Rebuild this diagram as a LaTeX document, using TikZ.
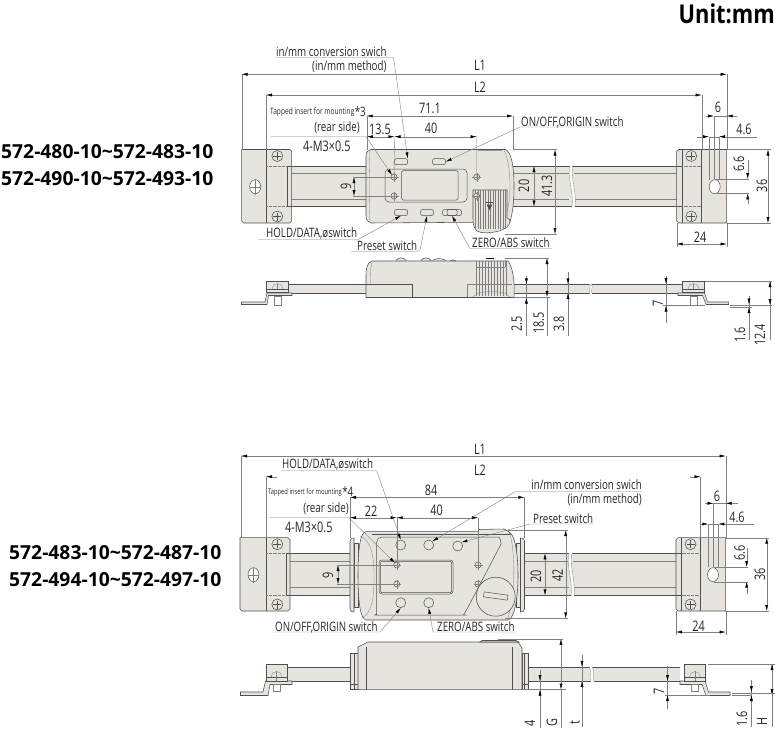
\documentclass[tikz,border=0pt]{standalone}
\usepackage{fontspec}
\setmainfont[FakeStretch=0.75]{Open Sans}
\newfontfamily\modelfont{Open Sans}
\newfontfamily\unitfont[FakeStretch=0.84]{Open Sans}
\usetikzlibrary{arrows.meta}
\definecolor{bodyc}{HTML}{E7E3DF}
\definecolor{linec}{HTML}{505050}
\definecolor{dimc}{HTML}{808080}
\tikzset{
  x=1pt,y=-1pt,
  body/.style={draw=linec,fill=bodyc,line width=.55pt},
  edge/.style={draw=linec,line width=.5pt},
  thin edge/.style={draw=dimc,line width=.3pt},
  ext/.style={draw=dimc,line width=.4pt},
  ddim/.style={draw=dimc,line width=.4pt,{Latex[length=6pt,width=3pt,black]}-{Latex[length=6pt,width=3pt,black]}},
  sdim/.style={draw=dimc,line width=.4pt,-{Latex[length=6pt,width=3pt,black]}},
  lead/.style={draw=dimc,line width=.4pt,-{Latex[length=6pt,width=3pt,black]}},
  lab/.style={inner sep=0pt,font=\fontsize{13pt}{14pt}\selectfont,text=black!85},
  small/.style={inner sep=0pt,font=\fontsize{8.8pt}{9pt}\selectfont,text=black!85},
  num/.style={inner sep=0pt,font=\fontsize{14.5pt}{15pt}\selectfont,text=black!85},
  vnum/.style={num,rotate=90},
  model/.style={inner sep=0pt,font=\modelfont\fontsize{19.3pt}{20pt}\bfseries\selectfont,text=black},
  btn/.style={draw=linec,fill=bodyc,line width=.5pt,rounded corners=2pt,minimum width=13pt,minimum height=6pt,inner sep=0pt},
  hole/.style={draw=linec,fill=bodyc,line width=.5pt,circle,inner sep=0pt,minimum size=10pt},
}
\newcommand{\myscrew}[2]{%
  \draw[body] (#1,#2) circle[radius=5.5pt];
  \draw[edge] (#1-4,#2) -- (#1+4,#2) (#1,#2-4) -- (#1,#2+4);
}
\newcommand{\mytiny}[2]{%
  \draw[edge,fill=bodyc] (#1,#2) circle[radius=3pt];
  \draw[thin edge] (#1-4.5,#2) -- (#1+4.5,#2) (#1,#2-4.5) -- (#1,#2+4.5);
}
\newcommand{\mybrackets}[6]{%
  \draw[body] (#1,\myt) -- (#3-2,\myt) -- (#3,\myt+2) -- (#3,\myb-2) -- (#3-2,\myb) -- (#1+2,\myb) -- (#1,\myb-2) -- cycle;
  \draw[edge] (#2,\myt) -- (#2,\myb);
  \draw[thin edge,densely dotted] (#2,\mysa) -- (#3,\mysa) (#2,\mysb) -- (#3,\mysb);
  \draw[edge] (#3-4,\mysa) -- (#3,\mysa) (#3-4,\mysb) -- (#3,\mysb) (#3-4,\mysa) -- (#3-4,\mysb);
  \draw[edge,fill=white] (#1+13.5,\myh) ellipse[x radius=5.5pt,y radius=7pt];
  \draw[thin edge] (#1+8,\myh) -- (#1+19,\myh) (#1+13.5,\myh-8) -- (#1+13.5,\myh+8);
  \myscrew{#2+11.3}{\myt+6.5}
  \myscrew{#2+11.3}{\myb-6.5}
  \draw[body] (#4,\myt+2) -- (#4+2,\myt) -- (#6,\myt) -- (#6,\myb) -- (#4+2,\myb) -- (#4,\myb-2) -- cycle;
  \draw[edge] (#5,\myt) -- (#5,\myb) (#4+5.5,\mysa) -- (#4+5.5,\mysb);
  \draw[thin edge,densely dotted] (#4+5.5,\mysa) -- (#5,\mysa) (#4+5.5,\mysb) -- (#5,\mysb);
  \draw[edge] (#4,\mysa) -- (#4+5.5,\mysa) (#4,\mysb) -- (#4+5.5,\mysb) (#4+5.5,\myt) -- (#4+5.5,\mysa) (#4+5.5,\mysb) -- (#4+5.5,\myb);
  \draw[edge,fill=white] (#5+13,\myh) ellipse[x radius=5.5pt,y radius=7pt];
  \myscrew{#4+14.5}{\myt+6.5}
  \myscrew{#4+14.5}{\myb-6.5}
}
\begin{document}
\begin{tikzpicture}
\useasboundingbox (0,0) rectangle (775,749);
\node[inner sep=0pt,anchor=east,font=\unitfont\fontsize{26pt}{27pt}\bfseries\selectfont] (unit) at (775,14) {Unit:mm};
\node[model,anchor=west] (m1) at (1,152) {572-480-10\textasciitilde 572-483-10};
\node[model,anchor=west] (m2) at (1,179) {572-490-10\textasciitilde 572-493-10};
\node[model,anchor=west] (m3) at (9,553) {572-483-10\textasciitilde 572-487-10};
\node[model,anchor=west] (m4) at (9,580) {572-494-10\textasciitilde 572-497-10};

%%%%%%%%%%%%%%%% TOP PLAN VIEW
\fill[bodyc] (287,166) rectangle (682,206.5);
\draw[edge] (287,166) -- (682,166);
\draw[edge] (287,206.5) -- (682,206.5);
\draw[thin edge] (287,173.3) -- (569,173.3) (574,173.3) -- (682,173.3);
\draw[thin edge] (287,199.3) -- (569,199.3) (574,199.3) -- (682,199.3);
\fill[white] (570,164) .. controls (567,178) and (574,192) .. (572,208) -- (575,208) .. controls (577,192) and (570,178) .. (573,164) -- cycle;
\draw[thin edge] (570,165) .. controls (567,178) and (574,192) .. (572,207);
\draw[thin edge] (573,165) .. controls (570,178) and (577,192) .. (575,207);
\def\myt{149.5}\def\myb{223}\def\mysa{166}\def\mysb{206.5}\def\myh{186.7}
\mybrackets{241.7}{266}{291.7}{676.7}{701.7}{726.7}
% head
\draw[body] (371,149.5) -- (505,149.5) .. controls (511,151) and (514,165) .. (514,186) .. controls (514,205) and (512,215) .. (510,222) -- (371,223) .. controls (368,222) and (366,220) .. (366,216) -- (366,156) .. controls (366,152) and (368,150) .. (371,149.5) -- cycle;
\draw[thin edge] (504,150) .. controls (509,160) and (510,175) .. (510,186) .. controls (510,200) and (508,210) .. (505,218);
\draw[thin edge] (370,150) .. controls (369,170) and (369,200) .. (370,222);
\fill[black!40] (478,149.5) rectangle (502,151);
% knurl
\draw[body] (473,190) -- (507,190) -- (507,218) .. controls (512,219) and (510,224) .. (507,227) .. controls (500,233) and (480,235) .. (476,230) .. controls (473,226) and (473,222) .. (473,218) -- cycle;
\foreach \kx in {475.5,478,...,505.5} \draw[thin edge] (\kx,190) -- (\kx,229);
\fill[linec] (486.5,204.5) -- (492.5,204.5) -- (489.5,210) -- cycle;
\draw[edge] (486,202.5) -- (493,202.5);
% display
\draw[edge,rounded corners=4pt] (385,169) rectangle (467,202);
\draw[edge,rounded corners=1.5pt] (401.7,170.5) rectangle (458,200);
\mytiny{394}{177}\mytiny{394}{196}\mytiny{476.7}{177}\mytiny{476.7}{196}
\coordinate (t1) at (394,177);\coordinate (t2) at (476.7,177);
\node[btn] (bA) at (401,161.7) {};
\node[btn] (bB) at (439,161.7) {};
\node[btn] (bC) at (401,212.5) {};
\node[btn] (bD) at (427,212.5) {};
\node[btn,minimum width=19pt] (bE) at (452,212.5) {};
\draw[edge,rounded corners=1.5pt] (447,209.5) rectangle (457,215.5);

% dims top
\node[num] (L1a) at (480,65) {L1};
\node[num] (L2a) at (480,87) {L2};
\coordinate (la) at (241.7,74.3);\coordinate (lb) at (726.7,74.3);
\coordinate (lc) at (266,95);\coordinate (ld) at (701.7,95);
\draw[ddim] (la) -- (lb);
\draw[ddim] (lc) -- (ld);
\draw[ext] (la) -- (241.7,149.5) (lb) -- (726.7,149.5) (lc) -- (266,149.5) (ld) -- (701.7,149.5);
\node[num] (d711) at (430,108) {71.1};
\draw[ddim] (366.7,116) -- (513,116);
\draw[ext] (366.7,116) -- (366.7,150) (513,116) -- (513,150);
\node[num] (d135) at (380,129) {13.5};
\node[num] (d40) at (431,128) {40};
\draw[ddim] (367,136.7) -- (394.5,136.7);
\draw[ddim] (394.5,136.7) -- (476.7,136.7);
\draw[ext] (394.5,136.7) -- (t1) (476.7,136.7) -- (t2);
\node[vnum] (d9) at (346,186) {9};
\draw[ddim] (354,177) -- (354,196);
\draw[ext] (353,177) -- (394,177) (353,196) -- (394,196);
\node[vnum] (d20) at (524,186) {20};
\draw[ddim] (534,166) -- (534,206.5);
\node[vnum] (d413) at (547,186) {41.3};
\draw[ddim] (555,149.5) -- (555,234);
\draw[ext] (514,149.5) -- (557,149.5) (505,234) -- (557,234);
\draw[ext] (534,173.3) -- (548,173.3) (534,199.3) -- (548,199.3);
% right side dims
\node[num] (d6) at (718,107) {6};
\draw[sdim] (706,116) -- (714,116);
\draw[sdim] (737,116) -- (726.7,116);
\draw[ext] (714,116) -- (726.7,116);
\node[num] (d46) at (744,129) {4.6};
\draw[ext] (697,136.7) -- (703,136.7);
\draw[sdim] (702,136.7) -- (709,136.7);
\draw[ext] (709,136.7) -- (719,136.7);
\draw[sdim] (757,136.7) -- (719,136.7);
\draw[ext] (714,116) -- (714,179) (709,136.7) -- (709,180) (719,136.7) -- (719,180);
\node[vnum] (d66) at (739,164) {6.6};
\draw[sdim] (747.7,160) -- (747.7,179);
\draw[sdim] (747.7,204) -- (747.7,193.3);
\draw[ext] (715,179) -- (749,179) (715,193.3) -- (749,193.3);
\node[vnum] (d36) at (762,186) {36};
\draw[ddim] (768,149.5) -- (768,223);
\draw[ext] (726.7,149.5) -- (771,149.5) (726.7,223) -- (771,223);
\node[num] (d24) at (700,237) {24};
\draw[ddim] (676.7,244) -- (726.7,244);
\draw[ext] (676.7,223) -- (676.7,247) (726.7,223) -- (726.7,247);

% labels top
\node[lab,anchor=east] (tA) at (386.7,52) {in/mm conversion swich};
\node[lab,anchor=east] (tB) at (386.7,67) {(in/mm method)};
\draw[lead] (275,57.3) -- (393.5,57.3) -- (bA.north east);
\node[small,anchor=west] (tC) at (270,112) {Tapped insert for mounting};
\node[lab,anchor=west] (tCs) at (tC.east) {\raisebox{1pt}{*3}};
\node[lab,anchor=east] (tD) at (360,128) {(rear side)};
\node[num,anchor=west] (tE) at (303,146) {4-M3×0.5};
\draw[lead] (271,136.7) -- (366,136.7) -- (392,175);
\node[lab,anchor=west] (tF) at (521,122) {ON/OFF,ORIGIN switch};
\draw[lead] (624,127) -- (520,127) -- (bB.east);
\node[lab,anchor=west] (tG) at (266,233) {HOLD/DATA,øswitch};
\draw[lead] (258,239.5) -- (358,239.5) -- (bC.south);
\node[lab,anchor=west] (tH) at (357,246) {Preset switch};
\draw[lead] (351,251.5) -- (417,251.5) -- (420,250) -- (bD.south);
\node[lab,anchor=west] (tI) at (472,243) {ZERO/ABS switch};
\draw[lead] (552,248.7) -- (470,248.7) -- (bE.south);

%%%%%%%%%%%%%%%% TOP SIDE VIEW
\fill[bodyc] (287,284.3) rectangle (682,293);
\draw[edge] (287,284.3) -- (682,284.3);
\draw[edge] (287,293) -- (682,293);
\fill[white] (589,283) -- (591,283) .. controls (594,287) and (590,290) .. (592,294) -- (590,294) .. controls (588,290) and (592,287) .. (589,283) -- cycle;
\draw[thin edge] (589,284) .. controls (592,287) and (588,290) .. (590,293);
\draw[thin edge] (591,284) .. controls (594,287) and (590,290) .. (592,293);
% buttons
\draw[body] (396,260.5) .. controls (398,257) and (404,257) .. (406,260.5);
\draw[body] (421,260.5) .. controls (423,257) and (429,257) .. (431,260.5);
\draw[body] (433,260.5) .. controls (434,258) and (443,258) .. (446,260.5);
\draw[body] (450,261) .. controls (451,259.5) and (454,259.5) .. (456,261);
\draw[draw=black,line width=1.2pt] (486,258.5) -- (494,258.5);
\draw[body] (372,261) -- (508,261) .. controls (512,266) and (515,278) .. (514,297.5) -- (366,297.5) -- (366,275) .. controls (366,267) and (368,262) .. (372,261) -- cycle;
\draw[thin edge] (372,262) .. controls (370,270) and (370,278) .. (371,284);
\draw[edge] (366,284) -- (412,284) -- (412,297.5);
\draw[thin edge] (476,261) -- (476,267) (476,267) -- (505,267) (505,261) -- (505,267);
\foreach \kx in {476,479,...,506} \draw[thin edge] (\kx,261) -- (\kx,296);
\draw[thin edge] (467,284) -- (512,284) (467,284) -- (467,297);
\draw[thin edge] (473,297) -- (478,293) -- (492,291) -- (505,293) -- (510,297);
% left bracket
\draw[body] (241.5,304.5) -- (267,304.5) -- (268.5,295.5) -- (292,295.5) -- (292,293) -- (267,293) -- (265,302) -- (241.5,302) -- cycle;
\draw[body] (266.6,281) rectangle (288,292.5);
\draw[edge] (266.6,289) -- (288,289);
\draw[thin edge] (272,289) arc[start angle=180,end angle=0,radius=5.5pt];
\draw[thin edge] (277.5,283.5) -- (277.5,289);
\draw[thin edge] (274,296) rectangle (281,305);
% right bracket
\draw[body] (728.6,304.5) -- (706,304.5) -- (702.5,295.5) -- (678,295.5) -- (678,293) -- (704.5,293) -- (707.5,302) -- (728.6,302) -- cycle;
\draw[body] (682.6,281) rectangle (704,292.5);
\draw[edge] (682.6,289) -- (704,289);
\draw[thin edge] (688,289) arc[start angle=180,end angle=0,radius=5.5pt];
\draw[thin edge] (693.5,283.5) -- (693.5,289);
\draw[thin edge] (690,296) rectangle (697,305);
% dims
\node[vnum] (s25) at (516.6,324) {2.5};
\draw[ext] (526.4,280) -- (526.4,336);
\draw[sdim] (526.4,276) -- (526.4,284.3);
\draw[sdim] (526.4,306) -- (526.4,297.5);
\draw[ext] (514,297.5) -- (550,297.5);
\node[vnum] (s185) at (538.6,323) {18.5};
\draw[ddim] (547,258) -- (547,297);
\draw[ext] (547,297) -- (547,336) (505,258) -- (549,258);
\node[vnum] (s38) at (559,324) {3.8};
\draw[ext] (568,272) -- (568,336);
\draw[sdim] (568,274) -- (568,284.3);
\draw[sdim] (568,302) -- (568,293);
\node[vnum] (s7) at (658,303) {7};
\draw[ext] (666,280) -- (666,323) (663,305.5) -- (705,305.5);
\draw[sdim] (666,276) -- (666,284);
\draw[sdim] (666,315) -- (666,305.5);
\node[vnum] (s16) at (740,335) {1.6};
\draw[ext] (749,299) -- (749,340);
\draw[sdim] (749,296) -- (749,304.5);
\draw[sdim] (749,315) -- (749,307);
\node[vnum] (s124) at (760,335) {12.4};
\draw[ext] (770,281) -- (770,340);
\draw[ddim] (770,281) -- (770,305);
\draw[ext] (705,281) -- (772,281) (730,305) -- (772,305) (730,307) -- (752,307);

%%%%%%%%%%%%%%%% BOTTOM PLAN VIEW
\fill[bodyc] (287,553.3) rectangle (680,595.3);
\draw[edge] (287,553.3) -- (680,553.3);
\draw[edge] (287,595.3) -- (680,595.3);
\draw[thin edge] (287,561.3) -- (568,561.3) (573,561.3) -- (680,561.3);
\draw[thin edge] (287,587.3) -- (569,587.3) (573,587.3) -- (680,587.3);
\fill[white] (569,552) .. controls (566,566) and (573,580) .. (571,597) -- (574,597) .. controls (576,580) and (569,566) .. (572,552) -- cycle;
\draw[thin edge] (569,553) .. controls (566,566) and (573,580) .. (571,596);
\draw[thin edge] (572,553) .. controls (569,566) and (576,580) .. (574,596);
\def\myt{537.7}\def\myb{611}\def\mysa{553.3}\def\mysb{595.3}\def\myh{574.7}
\mybrackets{240}{266}{290}{676}{700}{725.7}
% flanges
\draw[body] (350,541) .. controls (350,538) and (352,538) .. (354,538) -- (354,612) .. controls (352,612) and (350,612) .. (350,609) -- cycle;
\draw[body] (354,543) -- (358,543) -- (358,607) -- (354,607) -- cycle;
\draw[body] (524.5,541) .. controls (524.5,538) and (522,538) .. (520.5,538) -- (520.5,612) .. controls (522,612) and (524.5,612) .. (524.5,609) -- cycle;
\draw[body] (516,543) -- (520.5,543) -- (520.5,607) -- (516,607) -- cycle;
% head
\draw[body] (366,531.7) -- (508,531.7) .. controls (514,532) and (518,550) .. (518,575) .. controls (518,600) and (514,619) .. (508,620) -- (366,620) .. controls (360,619) and (358,600) .. (358,575) .. controls (358,550) and (360,532) .. (366,531.7) -- cycle;
\draw[thin edge] (360,536) .. controls (372,540) and (374,560) .. (374,575) .. controls (374,600) and (372,612) .. (362,618);
\draw[thin edge] (510,533) .. controls (515,555) and (516,590) .. (508,618);
\draw[edge,line width=.8pt] (372,534.5) -- (510,534.5);
\draw[body] (478.5,534.5) -- (478.5,529.5) -- (504,529) .. controls (507,530) and (510,532) .. (510,534.5) -- cycle;
% panel
\draw[edge,rounded corners=5pt] (376.7,537) -- (494,537) .. controls (500,537) and (501,544) .. (499,548) -- (466,611) .. controls (464,614) and (463,615) .. (460,615) -- (380,615) .. controls (377,615) and (376.7,612) .. (376.7,610) -- cycle;
\draw[edge,rounded corners=3pt] (379,560) rectangle (453,594);
\draw[edge,rounded corners=1pt] (380.5,561.5) rectangle (451.5,592.5);
\node[hole] (hA) at (400.7,545) {};
\node[hole] (hB) at (428.7,545) {};
\node[hole] (hC) at (457.7,546) {};
\node[hole] (hD) at (400.7,602.7) {};
\node[hole] (hE) at (428.7,602.7) {};
\mytiny{396.7}{565}\mytiny{396.7}{584}\mytiny{478}{565}\mytiny{478}{584}
\coordinate (b1) at (396.7,565);\coordinate (b2) at (478,565);
% wheel
\draw[body] (495.7,596.7) circle[radius=19.5pt];
\draw[edge,rotate around={-8:(495.7,596)}] (483.7,593.5) rectangle (507.7,598.5);

% dims bottom
\node[num] (L1b) at (480,449) {L1};
\node[num] (L2b) at (480,470) {L2};
\draw[ddim] (241,456) -- (725.7,456);
\draw[ext] (241,456) -- (241,537.7) (725.7,456) -- (725.7,537.7);
\draw[sdim] (277,476.7) -- (266,476.7);
\draw[sdim] (690,476.7) -- (700.5,476.7);
\draw[ext] (266,476.7) -- (266,537.7) (700.5,476.7) -- (700.5,537.7);
\node[num] (e84) at (431,490) {84};
\draw[ddim] (350,497.3) -- (524.3,497.3);
\draw[ext] (350,497.3) -- (350,538) (524.3,497.3) -- (524.3,538);
\node[num] (e22) at (371,511) {22};
\node[num] (e40) at (436.7,510) {40};
\draw[ddim] (350,517.7) -- (396.7,517.7);
\draw[ddim] (396.7,517.7) -- (478,517.7);
\draw[ext] (396.7,517.7) -- (b1) (478,517.7) -- (b2);
\node[vnum] (e9) at (328,575) {9};
\draw[ddim] (338,565) -- (338,584);
\draw[ext] (337,565) -- (396.7,565) (337,584) -- (396.7,584);
\node[vnum] (e20) at (536,576) {20};
\draw[ddim] (545,553.3) -- (545,595.3);
\node[vnum] (e42) at (557.7,575) {42};
\draw[ddim] (565.7,530) -- (565.7,618.3);
\draw[ext] (508,530) -- (568,530) (505,618.3) -- (568,618.3);
\draw[ext] (545,561.3) -- (559,561.3) (545,587.3) -- (559,587.3);
% right dims
\node[num] (e6) at (717,496) {6};
\draw[sdim] (705,503.3) -- (713.5,503.3);
\draw[sdim] (738,503.3) -- (725.7,503.3);
\draw[ext] (713.5,503.3) -- (725.7,503.3);
\node[num] (e46) at (737,517) {4.6};
\draw[sdim] (700,524) -- (708.3,524);
\draw[ext] (708.3,524) -- (718.3,524);
\draw[sdim] (754,524) -- (718.3,524);
\draw[ext] (713.5,503.3) -- (713.5,567) (708.3,524) -- (708.3,567) (718.3,524) -- (718.3,567);
\node[vnum] (e66) at (739.7,553) {6.6};
\draw[sdim] (746.7,548) -- (746.7,567);
\draw[sdim] (746.7,594) -- (746.7,581.7);
\draw[ext] (714,567) -- (748,567) (714,581.7) -- (748,581.7);
\node[vnum] (e36) at (760,574) {36};
\draw[ddim] (766.7,537.7) -- (766.7,611);
\draw[ext] (725.7,537.7) -- (769,537.7) (725.7,611) -- (769,611);
\node[num] (e24) at (698.7,626) {24};
\draw[ddim] (676,632) -- (725.7,632);
\draw[ext] (676,611) -- (676,635) (725.7,611) -- (725.7,635);

% labels bottom
\node[lab,anchor=west] (uA) at (282,464) {HOLD/DATA,øswitch};
\draw[lead] (281,470.7) -- (376.7,470.7) -- (hA.north);
\node[small,anchor=west] (uB) at (268,492) {\fontsize{7.7pt}{8pt}\selectfont Tapped insert for mounting};
\node[lab,anchor=west] (uBs) at (uB.east) {\raisebox{1pt}{*4}};
\node[lab,anchor=east] (uC) at (349,509) {(rear side)};
\node[num,anchor=west] (uD) at (285,527) {4-M3×0.5};
\draw[lead] (269,517.7) -- (349,517.7) -- (395,563);
\node[lab,anchor=west] (uE) at (275,627) {ON/OFF,ORIGIN switch};
\draw[lead] (273,632) -- (380,632) -- (hD.south);
\node[lab,anchor=west] (uF) at (437,627) {ZERO/ABS switch};
\draw[lead] (517,632) -- (433,632) -- (hE.south);
\node[lab,anchor=east] (uG) at (642,485) {in/mm conversion swich};
\node[lab,anchor=east] (uH) at (642,500) {(in/mm method)};
\draw[lead] (642,491.7) -- (515,491.7) -- (hB.north east);
\node[lab,anchor=west] (uI) at (533,519) {Preset switch};
\draw[lead] (594,524) -- (530,524) -- (hC.north east);

%%%%%%%%%%%%%%%% BOTTOM SIDE VIEW
\fill[bodyc] (287,666.8) rectangle (680,681);
\draw[edge] (287,666.8) -- (680,666.8);
\draw[edge] (287,681) -- (680,681);
\fill[white] (589,666) .. controls (593,671) and (588,676) .. (591,682) -- (594,682) .. controls (591,676) and (596,671) .. (592,666) -- cycle;
\draw[thin edge] (589,667) .. controls (593,671) and (588,676) .. (591,681);
\draw[thin edge] (592,667) .. controls (596,671) and (591,676) .. (594,681);
\draw[body] (350,653) -- (358,653) -- (358,689.6) -- (350,689.6) -- cycle;
\draw[edge] (354,653) -- (354,689.6) (350,684) -- (358,684);
\draw[body] (522,653) -- (528,653) -- (528,689.6) -- (522,689.6) -- cycle;
\draw[edge] (524.5,653) -- (524.5,689.6) (522,684) -- (528,684);
\draw[body] (358,647) -- (368,642) -- (518,642) -- (522,648) -- (522,689.6) -- (358,689.6) -- cycle;
\draw[edge] (366,647) -- (366,689.6) (512.5,647) -- (512.5,689.6);
\draw[body] (480,642) -- (482,640.5) -- (516,640.5) -- (519,642) -- cycle;
% left bracket
\draw[body] (240.5,695.5) -- (268,695.5) -- (270,684.5) -- (292,684.5) -- (292,681) -- (265.5,681) -- (263,692) -- (240.5,692) -- cycle;
\draw[body] (265.8,664) rectangle (287,681);
\draw[edge] (265.8,677) -- (287,677);
\draw[thin edge] (271,677) arc[start angle=180,end angle=0,radius=5.5pt];
\draw[thin edge] (276.5,671) -- (276.5,681);
\draw[thin edge] (273,684.5) rectangle (280,691);
% right bracket
\draw[body] (730,695.5) -- (706,695.5) -- (702,684.5) -- (680,684.5) -- (680,681) -- (705,681) -- (708.5,692) -- (730,692) -- cycle;
\draw[body] (684.4,664) rectangle (705.6,681);
\draw[edge] (684.4,677) -- (705.6,677);
\draw[thin edge] (689.5,677) arc[start angle=180,end angle=0,radius=5.5pt];
\draw[thin edge] (695,671) -- (695,681);
\draw[thin edge] (691.5,684.5) rectangle (698.5,691);
% dims
\node[vnum] (f4) at (530,723) {4};
\draw[ext] (540,672) -- (540,728);
\draw[sdim] (540,670) -- (540,681);
\draw[sdim] (540,702) -- (540,689.6);
\draw[ext] (522,689.6) -- (566,689.6);
\node[vnum] (fG) at (552,723) {G};
\draw[ddim] (561,638.8) -- (561,689.6);
\draw[ext] (561,689.6) -- (561,728) (498,638.8) -- (563,638.8);
\node[vnum] (ft) at (575,723) {t};
\draw[ext] (582,655) -- (582,727);
\draw[sdim] (582,655) -- (582,666.8);
\draw[sdim] (582,697) -- (582,681);
\node[vnum] (f7) at (659,691) {7};
\draw[ext] (667.5,666) -- (667.5,709) (665,695) -- (710,695);
\draw[sdim] (667.5,667) -- (667.5,681);
\draw[sdim] (667.5,708) -- (667.5,695);
\node[vnum] (f16) at (742,719) {1.6};
\draw[ext] (751.4,680) -- (751.4,727);
\draw[sdim] (751.4,682) -- (751.4,692);
\draw[sdim] (751.4,704) -- (751.4,695);
\node[vnum] (fH) at (762,721) {H};
\draw[ext] (772,664) -- (772,727);
\draw[ddim] (772,664) -- (772,695);
\draw[ext] (708,664) -- (775,664) (732,693) -- (775,693) (732,695) -- (752,695);
\end{tikzpicture}
\end{document}
